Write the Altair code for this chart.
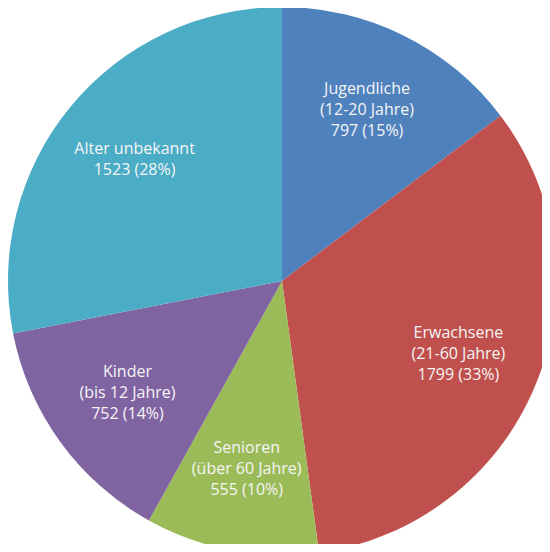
import altair as alt
import pandas as pd

categories = ["Jugendliche", "Erwachsene", "Senioren", "Kinder", "Alter unbekannt"]
subtitles = ["(12-20 Jahre)", "(21-60 Jahre)", "(über 60 Jahre)", "(bis 12 Jahre)", ""]
values = [797, 1799, 555, 752, 1523]
percents = [15, 33, 10, 14, 28]
colors = ["#4F81BD", "#C0504D", "#9BBB59", "#8064A2", "#4BACC6"]

labels = []
nlines = []
for c, s, v, p in zip(categories, subtitles, values, percents):
    lines = [c] + ([s] if s else []) + [f"{v} ({p}%)"]
    labels.append("\n".join(lines))
    nlines.append(len(lines))

df = pd.DataFrame({
    "category": categories,
    "value": values,
    "label": labels,
    "nlines": nlines,
    "order": list(range(len(categories))),
})

CX, CY, R = 274, 273, 274
LH = 21

base = alt.Chart(df).encode(
    theta=alt.Theta("value:Q", stack=True),
    order=alt.Order("order:Q", sort="ascending"),
    x=alt.value(CX),
    y=alt.value(CY),
)

pie = base.mark_arc(radius=R).encode(
    color=alt.Color("category:N", scale=alt.Scale(domain=categories, range=colors), legend=None)
)

def label_layer(n):
    return base.mark_text(
        radius=191, font="Open Sans", fontSize=16, color="#f5f5f5",
        lineBreak="\n", lineHeight=LH, align="center", baseline="middle",
        dy=-(n - 1) * LH / 2,
    ).encode(
        text="label:N",
        opacity=alt.condition(f"datum.nlines == {n}", alt.value(1), alt.value(0)),
    )

chart = alt.layer(pie, label_layer(2), label_layer(3)).properties(
    width=534, height=536,
    autosize=alt.AutoSizeParams(type="none"),
    padding=0,
).configure_view(stroke=None)

chart.save("out.html", embed_options={"renderer": "svg", "actions": False})
